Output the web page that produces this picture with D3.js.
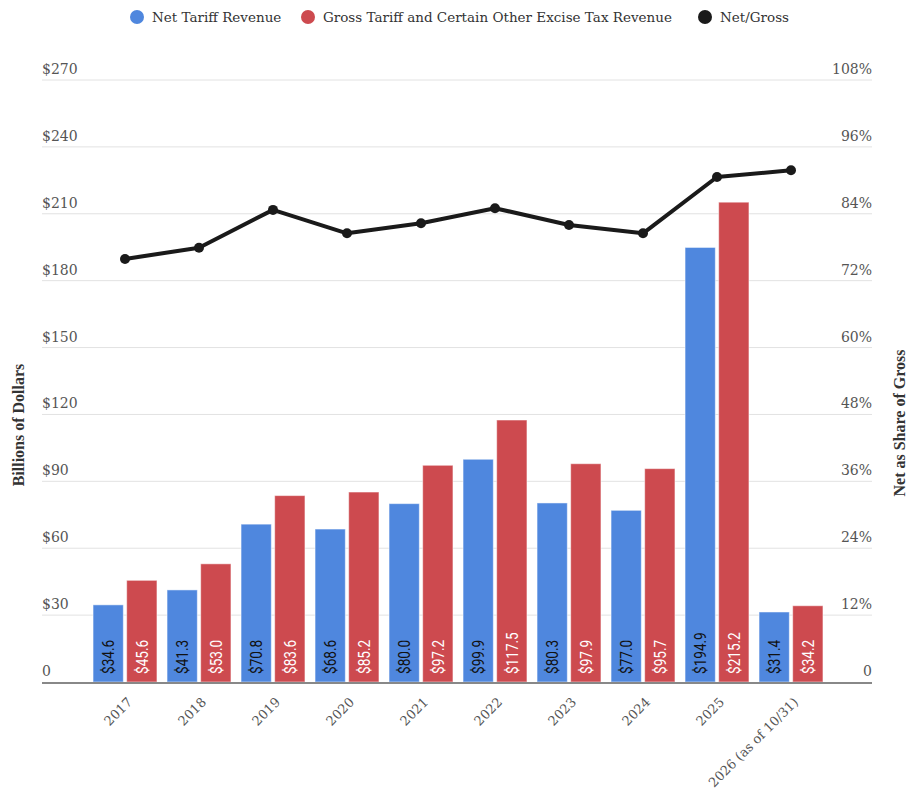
<!DOCTYPE html>
<html>
<head>
    <script src="https://d3js.org/d3.v7.min.js"></script>
    <style>
        body { margin: 0; background: #fff; }
        text { font-family: "DejaVu Serif", serif; }
        .tick-label { font-size: 14px; fill: #555; }
        .x-label { font-size: 13px; fill: #555; }
        .axis-title { font-family: "Liberation Serif", serif; font-weight: bold; font-size: 16px; fill: #333; }
        .bar-label { font-family: "Roboto", sans-serif; font-size: 17px; }
        .legend-text { font-size: 13.5px; fill: #333; }
    </style>
</head>
<body>
<div id="chart"></div>
<script>
    var years = ["2017", "2018", "2019", "2020", "2021", "2022", "2023", "2024", "2025", "2026 (as of 10/31)"];
    var netRevenue = [34.6, 41.3, 70.8, 68.6, 80.0, 99.9, 80.3, 77.0, 194.9, 31.4];
    var grossRevenue = [45.6, 53.0, 83.6, 85.2, 97.2, 117.5, 97.9, 95.7, 215.2, 34.2];
    var netShare = [75.9, 77.9, 84.7, 80.5, 82.3, 85.0, 82.0, 80.5, 90.6, 91.8];
    var leftTicks = [0, 30, 60, 90, 120, 150, 180, 210, 240, 270];
    var rightTicks = [0, 12, 24, 36, 48, 60, 72, 84, 96, 108];

    var width = 912, height = 791;
    var gridLeft = 42, gridRight = 872;
    var plotTop = 80, plotBottom = 682;

    var blue = "#4f87de", red = "#cd4a4f", black = "#1a1a1a";

    var svg = d3.select("#chart").append("svg")
        .attr("width", width)
        .attr("height", height);

    var x = d3.scaleBand().domain(years).range([88, 828]);
    var inner = d3.scaleBand().domain(["net", "gross"]).range([0, x.bandwidth()])
        .paddingInner(0.1).paddingOuter(0.15);
    var yLeft = d3.scaleLinear().domain([0, 270]).range([plotBottom, plotTop]);
    var yRight = d3.scaleLinear().domain([0, 108]).range([plotBottom, plotTop]);

    // grid lines
    svg.selectAll("line.grid")
        .data(leftTicks.slice(1))
        .enter().append("line")
        .attr("class", "grid")
        .attr("x1", gridLeft).attr("x2", gridRight)
        .attr("y1", function(d) { return yLeft(d); })
        .attr("y2", function(d) { return yLeft(d); })
        .attr("stroke", "#e2e2e2").attr("stroke-width", 1);

    // left tick labels
    svg.selectAll("text.left-tick")
        .data(leftTicks)
        .enter().append("text")
        .attr("class", "tick-label")
        .attr("x", gridLeft)
        .attr("y", function(d) { return yLeft(d) - 6; })
        .text(function(d) { return d === 0 ? "0" : "$" + d; });

    // right tick labels
    svg.selectAll("text.right-tick")
        .data(rightTicks)
        .enter().append("text")
        .attr("class", "tick-label")
        .attr("x", gridRight)
        .attr("y", function(d) { return yRight(d) - 6; })
        .attr("text-anchor", "end")
        .text(function(d) { return d === 0 ? "0" : d + "%"; });

    // bars
    var groups = svg.selectAll("g.year")
        .data(years)
        .enter().append("g")
        .attr("transform", function(d) { return "translate(" + x(d) + ",0)"; });

    function addBars(key, values, color, labelColor) {
        groups.append("rect")
            .attr("x", inner(key))
            .attr("width", inner.bandwidth())
            .attr("y", function(d, i) { return yLeft(values[i]); })
            .attr("height", function(d, i) { return plotBottom - yLeft(values[i]); })
            .attr("fill", color)
            .attr("stroke", "rgba(255,255,255,0.5)")
            .attr("stroke-width", 1);

        // condensed look: squeeze along the text direction
        groups.append("text")
            .attr("class", "bar-label")
            .attr("transform", "translate(" + (inner(key) + inner.bandwidth() / 2 + 6) + "," + (plotBottom - 8) + ") rotate(-90) scale(0.8,1)")
            .attr("fill", labelColor)
            .text(function(d, i) { return "$" + values[i].toFixed(1); });
    }
    addBars("net", netRevenue, blue, "#111");
    addBars("gross", grossRevenue, red, "#fff");

    // baseline
    svg.append("line")
        .attr("x1", gridLeft).attr("x2", gridRight)
        .attr("y1", plotBottom + 1).attr("y2", plotBottom + 1)
        .attr("stroke", "#888").attr("stroke-width", 2);

    // net/gross line
    var line = d3.line()
        .x(function(d, i) { return x(years[i]) + x.bandwidth() / 2; })
        .y(function(d) { return yRight(d); });

    svg.append("path")
        .datum(netShare)
        .attr("d", line)
        .attr("fill", "none")
        .attr("stroke", black)
        .attr("stroke-width", 4)
        .attr("stroke-linejoin", "round");

    svg.selectAll("circle.pt")
        .data(netShare)
        .enter().append("circle")
        .attr("cx", function(d, i) { return x(years[i]) + x.bandwidth() / 2; })
        .attr("cy", function(d) { return yRight(d); })
        .attr("r", 5)
        .attr("fill", black);

    // x labels
    svg.selectAll("text.xlab")
        .data(years)
        .enter().append("text")
        .attr("class", "x-label")
        .attr("text-anchor", "end")
        .attr("transform", function(d) {
            return "translate(" + (x(d) + x.bandwidth() / 2 + 8) + "," + (plotBottom + 21) + ") rotate(-45)";
        })
        .text(function(d) { return d; });

    // axis titles
    svg.append("text")
        .attr("class", "axis-title")
        .attr("text-anchor", "middle")
        .attr("transform", "translate(24,425) rotate(-90)")
        .text("Billions of Dollars");

    svg.append("text")
        .attr("class", "axis-title")
        .attr("text-anchor", "middle")
        .attr("transform", "translate(905,423) rotate(-90)")
        .text("Net as Share of Gross");

    // legend
    var legend = [
        { label: "Net Tariff Revenue", color: blue, x: 137 },
        { label: "Gross Tariff and Certain Other Excise Tax Revenue", color: red, x: 308 },
        { label: "Net/Gross", color: black, x: 705 }
    ];
    var lg = svg.selectAll("g.legend")
        .data(legend)
        .enter().append("g")
        .attr("transform", function(d) { return "translate(" + d.x + ",17)"; });
    lg.append("circle").attr("r", 7).attr("fill", function(d) { return d.color; });
    lg.append("text")
        .attr("class", "legend-text")
        .attr("x", 15)
        .attr("dy", "0.35em")
        .text(function(d) { return d.label; });
</script>
</body>
</html>
